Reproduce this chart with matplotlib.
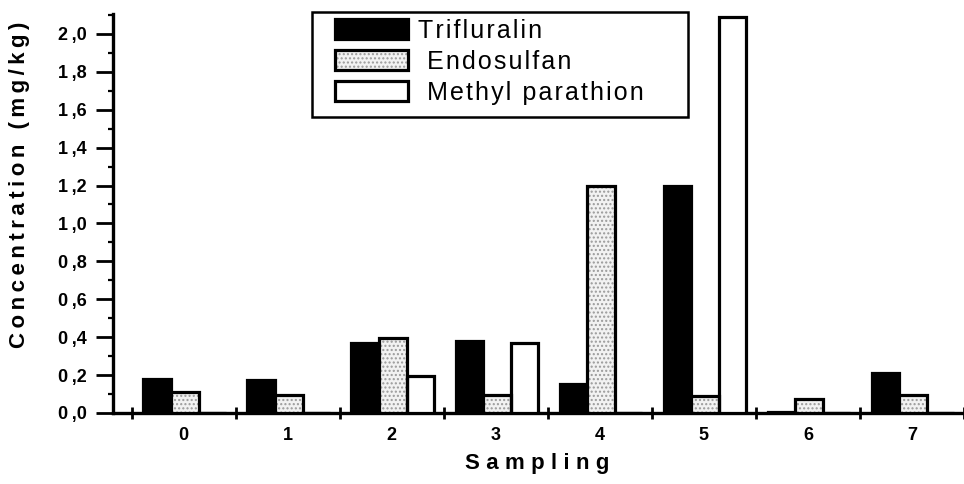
import matplotlib
matplotlib.use("Agg")
import matplotlib.pyplot as plt
import matplotlib.colors as mcolors
from matplotlib.patches import Rectangle
from matplotlib.ticker import MultipleLocator, FixedLocator, FuncFormatter
import numpy as np

# ---- data ----
samplings = ["0", "1", "2", "3", "4", "5", "6", "7"]
trifluralin = [0.18, 0.175, 0.37, 0.38, 0.155, 1.20, 0.005, 0.21]
endosulfan = [0.11, 0.095, 0.395, 0.095, 1.20, 0.09, 0.075, 0.095]
methyl_parathion = [0.0, 0.0, 0.195, 0.37, 0.0, 2.09, 0.0, 0.0]
series_names = ["Trifluralin", " Endosulfan", " Methyl parathion"]
yticks = [0.0, 0.2, 0.4, 0.6, 0.8, 1.0, 1.2, 1.4, 1.6, 1.8, 2.0]

FAM = ["Liberation Sans", "DejaVu Sans"]
plt.rcParams["font.family"] = FAM

def spaced(s, sep="\u2009"):
    return sep.join(list(s))

W, H = 964, 484
fig = plt.figure(figsize=(W / 100, H / 100), dpi=100)
ax = fig.add_axes([113 / W, 71 / H, 1 - 113 / W, (413 - 14) / H])

x = np.arange(len(samplings))
bw = 0.265
lw = 2.3
b1 = ax.bar(x - 0.255, trifluralin, bw, color="black", edgecolor="black", linewidth=lw, zorder=3)
b2 = ax.bar(x + 0.01, endosulfan, bw, facecolor="#f2f2f2", edgecolor="#8a8a8a",
            hatch="....", linewidth=0, zorder=3)
for p in b2:
    p._hatch_color = mcolors.to_rgba("#9a9a9a")
ax.bar(x + 0.01, endosulfan, bw, fill=False, edgecolor="black", linewidth=lw, zorder=4)
b3 = ax.bar(x + 0.275, methyl_parathion, bw, facecolor="white", edgecolor="black",
            linewidth=lw, zorder=3)

ax.set_xlim(-0.68, 7.46)
ax.set_ylim(0, 2.105)

for s in ["top", "right"]:
    ax.spines[s].set_visible(False)
for s in ["left", "bottom"]:
    ax.spines[s].set_linewidth(2.4)

ax.yaxis.set_major_locator(FixedLocator(yticks))
ax.yaxis.set_minor_locator(MultipleLocator(0.1))
ax.yaxis.set_major_formatter(
    FuncFormatter(lambda v, p: f"{v:.1f}".replace(".", "\u2009,")))
ax.tick_params(axis="y", which="major", direction="out", length=12, width=2.0, pad=7,
               labelsize=13)
ax.tick_params(axis="y", which="minor", direction="out", length=3.5, width=1.6)
for t in ax.get_yticklabels():
    t.set_fontweight("bold")

ax.set_xticks(x)
ax.set_xticklabels(samplings, fontsize=13, fontweight="bold")
ax.set_xticks(np.arange(-0.5, 8.0, 1.0), minor=True)
ax.tick_params(axis="x", which="major", length=0, pad=10)
ax.tick_params(axis="x", which="minor", direction="inout", length=9, width=2.0)

fig.text(20 / W, 1 - 185 / H, spaced("Concentration (mg/kg)"), rotation=90,
         ha="center", va="center", fontsize=16, fontweight="bold")
fig.text(537 / W, 1 - 463 / H, spaced("Sampling", "\u2009\u200a"), ha="center",
         va="center", fontsize=16, fontweight="bold")

# legend frame drawn separately (in the axes, below the legend)
frame = Rectangle((312 / W, 1 - 117 / H), (688 - 312) / W, (117 - 12) / H,
                  transform=fig.transFigure, facecolor="white", edgecolor="black",
                  linewidth=1.8, zorder=5, clip_on=False)
ax.add_artist(frame)
leg = ax.legend([b1[0], b2[0], b3[0]],
                [spaced(n, "\u200a") for n in series_names],
                loc="upper left", bbox_to_anchor=(335 / W, 1 - 19 / H),
                bbox_transform=fig.transFigure, borderaxespad=0, borderpad=0,
                frameon=False, handlelength=2.9, handleheight=0.85, handletextpad=0.4,
                labelspacing=0.28, prop={"family": FAM, "size": 18})
leg.set_zorder(6)
hs = leg.legend_handles
hs[1].set_edgecolor("black")
hs[1].set_hatch("....")
hs[1]._hatch_color = mcolors.to_rgba("#9a9a9a")
for h in hs:
    h.set_linewidth(2.3)

fig.savefig("out.png", dpi=100)
